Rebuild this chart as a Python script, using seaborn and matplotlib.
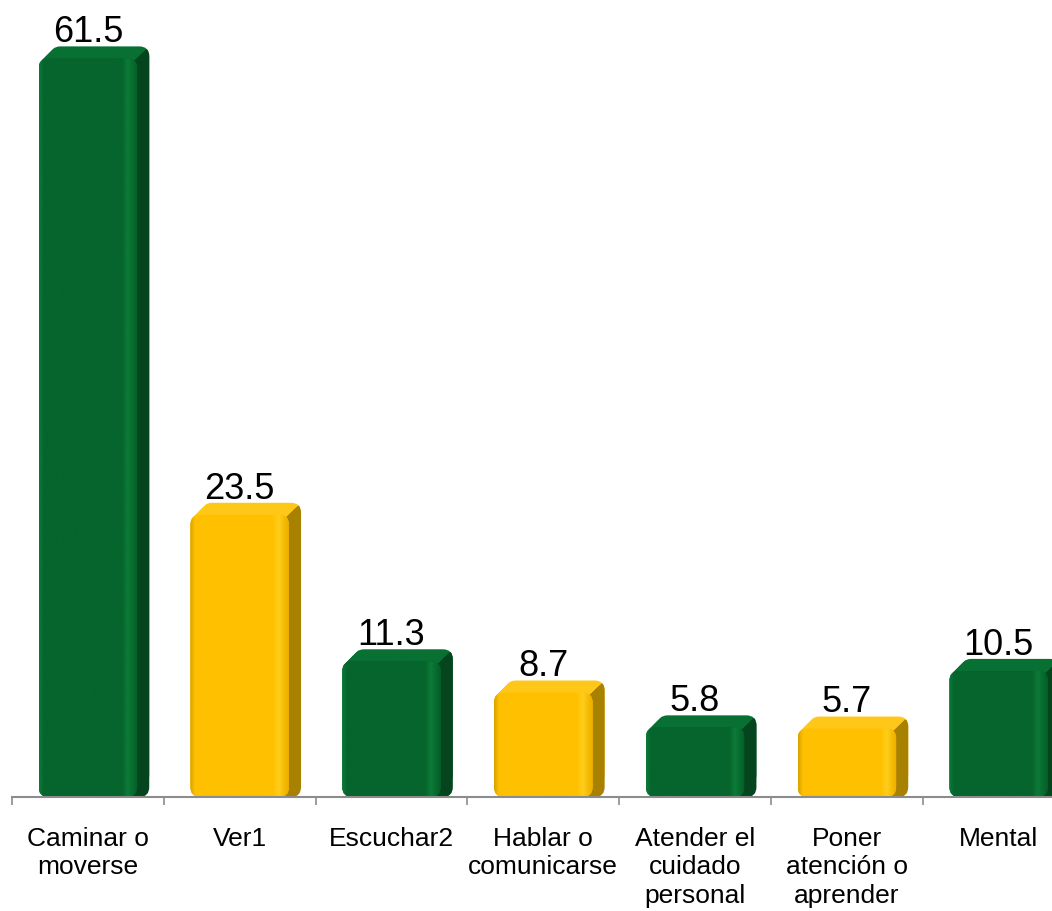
import numpy as np
import pandas as pd
import matplotlib
matplotlib.use("Agg")
import matplotlib.pyplot as plt
import matplotlib.transforms as mtransforms
from matplotlib.patches import FancyBboxPatch, Polygon
from matplotlib.colors import to_rgb
import seaborn as sns

# ---- data ----
categories = ["Caminar o\nmoverse", "Ver1", "Escuchar2", "Hablar o\ncomunicarse",
              "Atender el\ncuidado\npersonal", "Poner\natención o\naprender", "Mental"]
values = [61.5, 23.5, 11.3, 8.7, 5.8, 5.7, 10.5]
groups = ["verde", "amarillo", "verde", "amarillo", "verde", "amarillo", "verde"]

sns.set_theme(style="white")
plt.rcParams['font.family'] = ['Liberation Sans', 'DejaVu Sans']

W, H = 1052, 912
fig = plt.figure(figsize=(W / 100, H / 100), dpi=100)
PX_X = 151.8           # pixels per category
PPU_Y = 12.01          # pixels per value unit
AX_BOTTOM = 798
ax = fig.add_axes([12 / W, (H - AX_BOTTOM) / H, 7 * PX_X / W, AX_BOTTOM / H])

df = pd.DataFrame({"cat": categories, "val": values, "grp": groups})
main = {"verde": "#05652C", "amarillo": "#FFC000"}
sns.barplot(data=df, x="cat", y="val", hue="grp", palette=main, order=categories,
            width=0.65, dodge=False, legend=False, saturation=1, ax=ax)

ax.set_xlim(-0.5, 6.5)
ax.set_ylim(0, AX_BOTTOM / PPU_Y)
ax.set_autoscale_on(False)

style = {
    "verde": dict(side="#04451D", top="#097034",
                  stops=[(0, "#0C7A38"), (0.05, "#05652C"), (0.84, "#05652C"),
                         (0.9, "#0C7A37"), (0.96, "#066A2E"), (1.0, "#055C28")]),
    "amarillo": dict(side="#A98100", top="#FFC717",
                     stops=[(0, "#D9A300"), (0.05, "#FFC000"), (0.84, "#FFC000"),
                            (0.9, "#FFCE1E"), (0.96, "#F5B900"), (1.0, "#E8AF00")]),
}

def gradient(stops, n=200):
    xs = np.linspace(0, 1, n)
    pos = [s[0] for s in stops]
    cols = np.array([to_rgb(s[1]) for s in stops])
    img = np.stack([np.interp(xs, pos, cols[:, k]) for k in range(3)], axis=-1)
    return img[np.newaxis, :, :]

DEPTH = 12  # px
R_PX = 10
r_x = R_PX / PX_X
aspect = PX_X / PPU_Y
box = f"round,pad=0,rounding_size={r_x}"

main_rgb = {k: to_rgb(v) for k, v in main.items()}
for p in list(ax.patches):
    fc = p.get_facecolor()[:3]
    grp = min(main_rgb, key=lambda k: sum((a - b) ** 2 for a, b in zip(main_rgb[k], fc)))
    st = style[grp]
    x0, w, h = p.get_x(), p.get_width(), p.get_height()
    if h <= 0:
        continue
    (X0, Y0) = ax.transData.transform((x0, 0))
    (X1, Y1) = ax.transData.transform((x0 + w, h))
    # top face: copies shifted up-right
    for d in range(DEPTH, 0, -1):
        tr = mtransforms.offset_copy(ax.transData, fig=fig, x=d, y=d, units='dots')
        ax.add_patch(FancyBboxPatch((x0, 0), w, h, boxstyle=box, mutation_aspect=aspect,
                                    transform=tr, facecolor=st["top"], edgecolor="none",
                                    zorder=0.5))
    # side face: copies shifted right, clipped to the side region
    side_clip = Polygon([(X1 - 6, Y0 - 10), (X1 + 40, Y0 - 10), (X1 + 40, Y1 + 40),
                         (X1 - 6, Y1 - 6)], closed=True,
                        transform=mtransforms.IdentityTransform())
    for d in range(DEPTH, 0, -1):
        tr = mtransforms.offset_copy(ax.transData, fig=fig, x=d, y=0, units='dots')
        sp = FancyBboxPatch((x0, 0), w, h + d / PPU_Y, boxstyle=box, mutation_aspect=aspect,
                            transform=tr, facecolor=st["side"], edgecolor="none", zorder=0.6)
        ax.add_patch(sp)
        sp.set_clip_path(side_clip)
    # front face, rounded, with gradient
    clip = FancyBboxPatch((x0, 0), w, h, boxstyle=box, mutation_aspect=aspect,
                          transform=ax.transData, facecolor="none", edgecolor="none")
    p.set_zorder(1)
    p.set_edgecolor("none")
    p.set_clip_path(clip)
    im = ax.imshow(gradient(st["stops"]), extent=(x0, x0 + w, 0, h), aspect='auto',
                   interpolation='bilinear', zorder=1.1)
    im.set_clip_path(clip)

ax.set_xlim(-0.5, 6.5)
ax.set_ylim(0, AX_BOTTOM / PPU_Y)

# value labels
for i, v in enumerate(values):
    ax.annotate(f"{v:.1f}", xy=(i, v), xytext=(0, 12.3), textcoords='offset points',
                ha='center', va='baseline', fontsize=26, color='black',
                annotation_clip=False)

# axes styling
for s in ["top", "right", "left"]:
    ax.spines[s].set_visible(False)
ax.spines["bottom"].set_color("#8C8C8C")
ax.spines["bottom"].set_linewidth(1.5)
ax.set_yticks([])
ax.set_xticks(np.arange(-0.5, 7, 1))
ax.set_xticklabels([""] * 8)
ax.set_xticks(range(7), minor=True)
ax.set_xticklabels(categories, minor=True, fontsize=19, linespacing=1.22, color='black')
ax.tick_params(axis='x', which='major', bottom=True, length=6, width=1.2, color="#8C8C8C", direction='out')
ax.tick_params(axis='x', which='minor', bottom=True, length=0, pad=21)
ax.set_xlabel("")
ax.set_ylabel("")

fig.savefig("out.png", dpi=100)
